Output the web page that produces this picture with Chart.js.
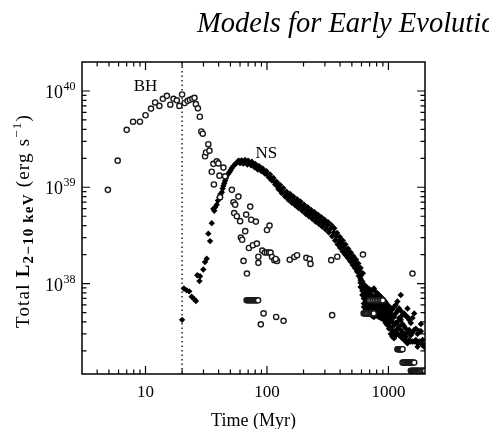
<!DOCTYPE html>
<html>
<head>
<meta charset="utf-8">
<script src="https://cdn.jsdelivr.net/npm/chart.js@4.4.1/dist/chart.umd.min.js"></script>
<style>
  html, body { margin: 0; padding: 0; background: #fff; }
  #wrap { width: 489px; height: 429px; position: relative; overflow: hidden; }
</style>
</head>
<body>
<div id="wrap"><canvas id="xrbChart" width="489" height="429"></canvas></div>
<script>
// axis setup
const xMin = 3, xMax = 2000;
const yMin = 1.15e37, yMax = 2e40;
const xLabelTicks = [10, 100, 1000];
const yLabelTicks = [1e38, 1e39, 1e40];
const splitTime = 20; // dotted line, Myr

// labels inside the plot
const noteText = ['BH', 'NS'];
const noteT = [10, 99];
const noteL = [1.1e40, 2.26e39];

// BH population (open circles): time (Myr) / L(2-10 keV) erg/s
const bhT = [4.9, 5.9, 7.0, 7.9, 9.0, 10, 11.1, 12, 13, 13.9, 15, 16, 17, 18.1, 19, 20, 21, 22.2, 23.2, 24.3, 25.3, 26, 27, 28, 28.8, 29.6,
  30.9, 31.5, 32.9, 33.6, 35.1, 36.2, 36.6, 38.6, 39.8, 40.6, 41.1, 43.8, 45.2, 51.4, 53, 54.7, 58.2, 72.8, 53.7, 56.5, 60.1, 67.4, 74.1, 81.1,
  100, 105, 66.2, 61, 62.5, 71, 76.6, 82.6, 91.5, 85, 85, 96, 100, 104, 107, 110, 115, 121, 118, 64.1, 68.4,
  154, 168, 177, 211, 225, 228, 338, 379, 617, 1578, 89, 93.8, 119, 137, 344,
  68, 69.5, 71, 72.5, 74, 75.5, 77, 78.5, 80, 81.5, 83, 84.5,
  700, 725, 750, 775, 800, 825, 850, 875, 900,
  625, 640, 655, 670, 685, 700, 715, 730, 745, 757,
  1186, 1200, 1215, 1230, 1245, 1260, 1275, 1290, 1306,
  1306, 1330, 1355, 1380, 1405, 1430, 1455, 1480, 1505, 1530, 1560, 1590, 1630,
  1528, 1560, 1590, 1620, 1650, 1680, 1715, 1750, 1785, 1820, 1860, 1900, 1940, 1980, 2000];
const bhL = [9.4e38, 1.89e39, 3.95e39, 4.8e39, 4.8e39, 5.6e39, 6.56e39, 7.6e39, 7.0e39, 8.3e39, 8.9e39, 7.2e39, 8.3e39, 8.0e39, 7.0e39, 9.2e39, 7.5e39, 7.9e39, 8.1e39, 8.3e39, 8.5e39, 7.3e39, 6.6e39, 5.4e39, 3.8e39, 3.6e39,
  2.1e39, 2.3e39, 2.8e39, 2.4e39, 1.45e39, 1.75e39, 1.07e39, 1.86e39, 1.77e39, 1.32e39, 7.9e38, 1.6e39, 1.3e39, 9.4e38, 7.0e38, 6.6e38, 8.0e38, 6.3e38, 5.4e38, 5.0e38, 4.45e38, 5.2e38, 4.6e38, 4.4e38,
  3.6e38, 4.0e38, 3.5e38, 3.0e38, 2.85e38, 2.34e38, 2.5e38, 2.6e38, 2.2e38, 1.9e38, 1.64e38, 2.1e38, 2.1e38, 2.1e38, 2.1e38, 1.89e38, 1.75e38, 1.72e38, 1.8e38, 1.72e38, 1.27e38,
  1.77e38, 1.89e38, 1.97e38, 1.85e38, 1.8e38, 1.6e38, 1.75e38, 1.9e38, 2.0e38, 1.27e38, 3.77e37, 4.9e37, 4.5e37, 4.1e37, 4.7e37,
  6.7e37, 6.7e37, 6.7e37, 6.7e37, 6.7e37, 6.7e37, 6.7e37, 6.7e37, 6.7e37, 6.7e37, 6.7e37, 6.7e37,
  6.7e37, 6.7e37, 6.7e37, 6.7e37, 6.7e37, 6.7e37, 6.7e37, 6.7e37, 6.7e37,
  4.9e37, 4.9e37, 4.9e37, 4.9e37, 4.9e37, 4.9e37, 4.9e37, 4.9e37, 4.9e37, 4.9e37,
  2.08e37, 2.08e37, 2.08e37, 2.08e37, 2.08e37, 2.08e37, 2.08e37, 2.08e37, 2.08e37,
  1.51e37, 1.51e37, 1.51e37, 1.51e37, 1.51e37, 1.51e37, 1.51e37, 1.51e37, 1.51e37, 1.51e37, 1.51e37, 1.51e37, 1.51e37,
  1.24e37, 1.24e37, 1.24e37, 1.24e37, 1.24e37, 1.24e37, 1.24e37, 1.24e37, 1.24e37, 1.24e37, 1.24e37, 1.24e37, 1.24e37, 1.24e37, 1.24e37];

// NS population (filled points)
const nsT = [
  // early rise
  20, 20.7, 21.8, 22.9, 24, 25.1, 26, 26.7, 27.8, 28.1, 29.9, 30.9, 31.9, 32.9, 34, 35.1, 36.2, 37.4, 36.8,
  // main ridge
  38.6, 39.5, 40.5, 41.5, 42.5, 43.2, 43.8, 44.5, 45.2, 46, 46.6, 47.8, 49.1, 50.2, 51.4, 53, 54.7, 56.5, 58.3, 60,
  62.1, 64.5, 67.4, 70, 72.8, 76, 80, 82.5, 85.3, 89, 92.7, 97, 101, 105, 110, 115, 121, 125, 129, 137, 146, 155,
  166, 176, 188, 200, 214, 228, 243, 259, 276, 294, 313, 333, 355, 372, 391, 410, 430, 451, 473, 496, 519, 540, 561, 575, 590,
  // upper edge of ridge
  62, 66, 70, 75, 80, 86, 92, 99, 106, 113, 120, 128, 136, 145, 155, 165, 177, 189, 202, 216, 231, 246, 262, 279, 298,
  318, 338, 358, 378, 398, 420, 442, 466, 490, 515, 540, 565, 590, 615,
  // lower edge of ridge
  60, 64, 69, 74, 79, 84, 90, 96, 103, 109, 117, 124, 132, 141, 150, 160, 171, 182, 195, 208, 221, 236, 251, 268, 285,
  304, 323, 344, 364, 382, 400, 420, 440, 462, 485, 508, 530, 552, 570, 590,
  // late cloud
  590, 590, 590, 610, 610, 610, 610, 628, 628, 628, 628, 628, 628, 650, 650, 650, 650, 650, 650,
  670, 670, 670, 670, 670, 670, 692, 692, 692, 692, 692, 692, 714, 714, 714, 714, 714, 714,
  737, 737, 737, 737, 737, 737, 760, 760, 760, 760, 760, 760, 785, 785, 785, 785, 785,
  811, 811, 811, 811, 811, 837, 837, 837, 837, 837, 864, 864, 864, 864, 864, 891, 891, 891, 891, 891,
  920, 920, 920, 920, 920, 950, 950, 950, 950, 950, 981, 981, 981, 981, 981, 1012, 1012, 1012, 1012, 1012,
  1045, 1045, 1045, 1045, 1045, 1078, 1078, 1078, 1078, 1078, 1112, 1112, 1112, 1112, 1112, 1148, 1148, 1148, 1148, 1148,
  1186, 1186, 1186, 1186, 1186, 1225, 1225, 1225, 1225, 1264, 1264, 1264, 1264, 1264, 1305, 1305, 1305, 1305,
  1346, 1346, 1346, 1346, 1390, 1390, 1390, 1390, 1435, 1435, 1435, 1435, 1480, 1480, 1480, 1528, 1528, 1528,
  1578, 1578, 1578, 1630, 1630, 1630, 1683, 1683, 1737, 1737, 1737, 1790, 1790, 1850, 1850, 1850, 1910, 1910, 1968, 1968];
const nsL = [
  4.2e37, 8.9e37, 8.5e37, 8.3e37, 7.3e37, 6.9e37, 6.6e37, 1.22e38, 1.06e38, 1.19e38, 1.4e38, 1.67e38, 1.81e38, 3.3e38, 2.76e38, 4.24e38, 5.97e38, 6.2e38, 5.7e38,
  6.6e38, 7.3e38, 7.9e38, 8.5e38, 8.9e38, 9.7e38, 1.04e39, 1.1e39, 1.17e39, 1.25e39, 1.32e39, 1.37e39, 1.43e39, 1.5e39, 1.59e39, 1.66e39, 1.74e39, 1.8e39, 1.89e39, 1.86e39,
  1.82e39, 1.85e39, 1.82e39, 1.8e39, 1.77e39, 1.74e39, 1.67e39, 1.63e39, 1.59e39, 1.54e39, 1.49e39, 1.42e39, 1.35e39, 1.28e39, 1.22e39, 1.14e39, 1.08e39, 1.0e39, 9.3e38, 8.8e38, 8.2e38, 7.8e38,
  7.3e38, 6.9e38, 6.5e38, 6.1e38, 5.7e38, 5.4e38, 5.1e38, 4.8e38, 4.5e38, 4.25e38, 4.0e38, 3.7e38, 3.4e38, 3.1e38, 2.8e38, 2.6e38, 2.4e38, 2.2e38, 2.04e38, 1.88e38, 1.74e38, 1.6e38, 1.49e38, 1.35e38, 1.2e38,
  1.9e39, 1.92e39, 1.89e39, 1.84e39, 1.75e39, 1.66e39, 1.57e39, 1.47e39, 1.36e39, 1.25e39, 1.14e39, 1.06e39, 9.8e38, 9.0e38, 8.5e38, 8.0e38, 7.5e38, 7.1e38, 6.6e38, 6.2e38, 5.8e38, 5.5e38, 5.2e38, 4.9e38, 4.6e38,
  4.35e38, 4.05e38, 3.75e38, 3.35e38, 3.05e38, 2.8e38, 2.55e38, 2.3e38, 2.1e38, 1.92e38, 1.78e38, 1.62e38, 1.45e38, 1.28e38,
  1.78e39, 1.76e39, 1.72e39, 1.69e39, 1.61e39, 1.53e39, 1.47e39, 1.39e39, 1.28e39, 1.18e39, 1.07e39, 9.6e38, 8.7e38, 8.0e38, 7.4e38, 6.9e38, 6.5e38, 6.1e38, 5.7e38, 5.3e38, 5.0e38, 4.7e38, 4.4e38, 4.15e38, 3.9e38,
  3.65e38, 3.4e38, 3.1e38, 2.8e38, 2.55e38, 2.35e38, 2.15e38, 2.0e38, 1.85e38, 1.7e38, 1.56e38, 1.45e38, 1.33e38, 1.2e38, 1.08e38,
  1.12e38, 1.02e38, 9.2e37, 1.05e38, 9.5e37, 8.4e37, 7.6e37, 9.8e37, 8.8e37, 7.9e37, 7.0e37, 6.2e37, 5.7e37, 9.4e37, 8.5e37, 7.6e37, 6.8e37, 6.0e37, 5.4e37,
  9.0e37, 8.2e37, 7.3e37, 6.5e37, 5.8e37, 5.2e37, 8.8e37, 7.9e37, 7.0e37, 6.2e37, 5.5e37, 5.0e37, 8.5e37, 7.7e37, 6.9e37, 6.0e37, 5.3e37, 4.8e37,
  8.6e37, 7.5e37, 6.6e37, 5.8e37, 5.1e37, 4.6e37, 8.9e37, 7.3e37, 6.4e37, 5.6e37, 5.0e37, 4.5e37, 8.2e37, 7.1e37, 6.2e37, 5.4e37, 4.8e37,
  7.9e37, 6.9e37, 6.0e37, 5.2e37, 4.6e37, 7.6e37, 6.6e37, 5.8e37, 5.0e37, 4.5e37, 7.3e37, 6.4e37, 5.6e37, 4.9e37, 4.4e37, 7.0e37, 6.1e37, 5.3e37, 4.7e37, 4.3e37,
  6.7e37, 5.9e37, 5.1e37, 4.6e37, 4.2e37, 6.4e37, 5.6e37, 4.9e37, 4.4e37, 3.9e37, 6.0e37, 5.3e37, 4.7e37, 4.2e37, 3.7e37, 5.8e37, 5.1e37, 4.5e37, 3.9e37, 3.4e37,
  5.5e37, 4.9e37, 4.2e37, 3.5e37, 3.0e37, 5.4e37, 4.7e37, 4.0e37, 3.3e37, 2.8e37, 5.7e37, 4.5e37, 3.7e37, 3.1e37, 2.7e37, 6.0e37, 4.9e37, 3.9e37, 3.2e37, 2.9e37,
  6.5e37, 5.2e37, 4.0e37, 3.4e37, 3.0e37, 5.5e37, 4.4e37, 3.6e37, 2.9e37, 7.6e37, 5.2e37, 4.2e37, 3.3e37, 2.8e37, 4.7e37, 3.8e37, 3.1e37, 2.7e37,
  4.9e37, 3.6e37, 3.0e37, 2.6e37, 4.6e37, 3.4e37, 2.8e37, 2.5e37, 5.5e37, 4.5e37, 3.1e37, 2.4e37, 4.2e37, 3.3e37, 2.6e37, 3.9e37, 2.9e37, 2.5e37,
  4.4e37, 3.1e37, 2.5e37, 4.9e37, 3.3e37, 2.5e37, 3.4e37, 2.6e37, 3.0e37, 2.4e37, 2.2e37, 3.2e37, 2.5e37, 3.8e37, 3.2e37, 2.4e37, 2.6e37, 2.3e37, 2.3e37, 2.2e37];

const serif = '"Liberation Serif", "DejaVu Serif", serif';

function pts(ts, ls) { return ts.map((t, i) => ({ x: t, y: ls[i] })); }

const framePlugin = {
  id: 'frame',
  beforeDatasetsDraw(chart) {
    const { ctx, chartArea: a, scales: { x } } = chart;
    const px = x.getPixelForValue(splitTime);
    ctx.save();
    ctx.strokeStyle = '#000';
    ctx.lineWidth = 1.3;
    ctx.setLineDash([1.5, 3]);
    ctx.beginPath(); ctx.moveTo(px, a.top); ctx.lineTo(px, a.bottom); ctx.stroke();
    ctx.restore();
  },
  afterDatasetsDraw(chart) {
    const { ctx, chartArea: a, scales: { x, y } } = chart;
    ctx.save();
    ctx.strokeStyle = '#000';
    ctx.lineWidth = 1.5;
    ctx.strokeRect(a.left, a.top, a.right - a.left, a.bottom - a.top);
    ctx.lineWidth = 1.2;
    ctx.beginPath();
    // inward ticks on all four sides
    for (let e = 0; e <= 3; e++) for (let m = 1; m <= 9; m++) {
      const v = m * Math.pow(10, e);
      if (v <= xMin || v >= xMax) continue;
      const p = x.getPixelForValue(v), len = m === 1 ? 8 : 4.5;
      ctx.moveTo(p, a.bottom); ctx.lineTo(p, a.bottom - len);
      ctx.moveTo(p, a.top); ctx.lineTo(p, a.top + len);
    }
    for (let e = 37; e <= 40; e++) for (let m = 1; m <= 9; m++) {
      const v = m * Math.pow(10, e);
      if (v <= yMin || v >= yMax) continue;
      const p = y.getPixelForValue(v), len = m === 1 ? 8 : 4.5;
      ctx.moveTo(a.left, p); ctx.lineTo(a.left + len, p);
      ctx.moveTo(a.right, p); ctx.lineTo(a.right - len, p);
    }
    ctx.stroke();

    // y tick labels 10^n
    ctx.fillStyle = '#000';
    ctx.textBaseline = 'alphabetic';
    yLabelTicks.forEach(v => {
      const p = y.getPixelForValue(v);
      ctx.font = `18px ${serif}`;
      ctx.textAlign = 'right';
      ctx.fillText('10', 63, p + 7);
      ctx.font = `12px ${serif}`;
      ctx.textAlign = 'left';
      ctx.fillText(String(Math.round(Math.log10(v))), 63.5, p - 1);
    });

    // in-plot labels
    ctx.font = `17px ${serif}`;
    ctx.textAlign = 'center';
    ctx.textBaseline = 'middle';
    noteText.forEach((s, i) => ctx.fillText(s, x.getPixelForValue(noteT[i]), y.getPixelForValue(noteL[i])));

    // x title
    ctx.font = `18px ${serif}`;
    ctx.fillText('Time (Myr)', (a.left + a.right) / 2, 421);

    // y title, rotated, with sub/superscripts
    const segs = [
      { t: 'Total ', f: `19px ${serif}`, dy: 0 },
      { t: 'L', f: `bold 19px ${serif}`, dy: 0 },
      { t: '2\u221210 keV', f: `bold 15px ${serif}`, dy: 4 },
      { t: ' (erg s', f: `19px ${serif}`, dy: 0 },
      { t: '\u22121', f: `13px ${serif}`, dy: -8 },
      { t: ')', f: `19px ${serif}`, dy: 0 },
    ];
    ctx.letterSpacing = '1.2px';
    let total = 0;
    segs.forEach(s => { ctx.font = s.f; s.w = ctx.measureText(s.t).width; total += s.w; });
    ctx.translate(23, 221);
    ctx.rotate(-Math.PI / 2);
    ctx.textAlign = 'left';
    ctx.textBaseline = 'alphabetic';
    let cx = -total / 2;
    segs.forEach(s => { ctx.font = s.f; ctx.fillText(s.t, cx, 6 + s.dy); cx += s.w; });
    ctx.restore();

    // running page header (cut off at the right edge)
    ctx.save();
    ctx.font = `italic 28.5px ${serif}`;
    ctx.fillStyle = '#000';
    ctx.textAlign = 'left';
    ctx.textBaseline = 'alphabetic';
    ctx.fillText('Models for Early Evolution', 197, 32);
    ctx.restore();
  }
};

new Chart(document.getElementById('xrbChart'), {
  type: 'scatter',
  data: {
    datasets: [
      { label: 'BH', data: pts(bhT, bhL), pointStyle: 'circle', pointRadius: 2.6, borderWidth: 1.4,
        borderColor: '#1a1a1a', backgroundColor: '#fff' },
      { label: 'NS', data: pts(nsT, nsL), pointStyle: 'rectRot', pointRadius: 3.2, borderWidth: 0,
        borderColor: '#000', backgroundColor: '#000' },
    ]
  },
  options: {
    responsive: false,
    animation: false,
    devicePixelRatio: 1,
    layout: { padding: { left: 0, top: 62, right: 64, bottom: 0 } },
    plugins: { legend: { display: false }, tooltip: { enabled: false } },
    scales: {
      x: {
        type: 'logarithmic', min: xMin, max: xMax, position: 'bottom',
        grid: { display: false, drawTicks: false }, border: { display: false },
        ticks: {
          autoSkip: false, maxRotation: 0, padding: 8, color: '#000',
          font: { family: serif, size: 17 },
          callback: v => xLabelTicks.includes(v) ? String(v) : ''
        },
        afterFit: s => { s.height = 55; }
      },
      y: {
        type: 'logarithmic', min: yMin, max: yMax,
        grid: { display: false, drawTicks: false }, border: { display: false },
        ticks: { display: false },
        afterFit: s => { s.width = 82; }
      }
    }
  },
  plugins: [framePlugin]
});
</script>
</body>
</html>
